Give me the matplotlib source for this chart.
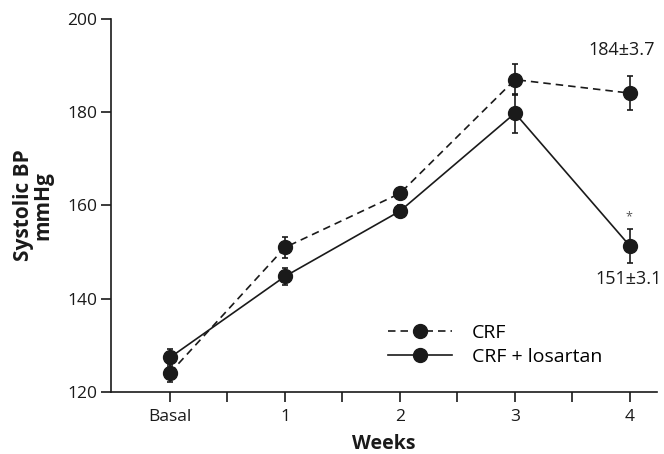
import numpy as np
import matplotlib
matplotlib.use("Agg")
import matplotlib.pyplot as plt
from matplotlib.lines import Line2D

plt.rcParams['font.family'] = ['Open Sans', 'DejaVu Sans']

# data
weeks = [0, 1, 2, 3, 4]
week_labels = ["Basal", "1", "2", "3", "4"]

crf_mean = [124.1, 151.0, 162.6, 187.0, 184.1]
crf_err = [1.9, 2.3, 1.2, 3.4, 3.7]

los_mean = [127.4, 144.8, 158.8, 179.8, 151.3]
los_err = [1.8, 1.9, 1.2, 4.2, 3.7]

ink = "#1a1a1a"
dash = (0, (4.5, 3))

fig = plt.figure(figsize=(6.64, 4.54), dpi=100)
ax = fig.add_axes([111/664, 1 - 392/454, (657 - 111)/664, (392 - 19)/454])

ax.errorbar(weeks, crf_mean, yerr=crf_err, color=ink, lw=1.2,
            linestyle=dash, marker='o', markersize=10,
            capsize=2.5, elinewidth=1.2, capthick=1.2)
ax.errorbar(weeks, los_mean, yerr=los_err, color=ink, lw=1.2,
            linestyle='-', marker='o', markersize=10,
            capsize=2.5, elinewidth=1.2, capthick=1.2)

ax.set_xlim(-0.513, 4.235)
ax.set_ylim(120, 200)
ax.set_yticks([120, 140, 160, 180, 200])
ax.set_xticks(weeks)
ax.set_xticklabels(week_labels)
ax.set_xticks([0.5, 1.5, 2.5, 3.5], minor=True)

for s in ["top", "right"]:
    ax.spines[s].set_visible(False)
for s in ["left", "bottom"]:
    ax.spines[s].set_linewidth(1.2)
    ax.spines[s].set_color(ink)

ax.tick_params(axis='both', which='both', direction='out', length=7,
               width=1.2, color=ink, labelsize=12.5, labelcolor=ink)
ax.tick_params(axis='x', pad=5)
ax.tick_params(axis='y', pad=3)

ax.set_xlabel("Weeks", fontsize=14, fontweight='bold', color=ink, labelpad=7)
ax.set_ylabel("Systolic BP\nmmHg", fontsize=15, fontweight='bold', color=ink,
              labelpad=10, linespacing=0.9)

ax.text(3.93, 193.4, "184±3.7", fontsize=13, ha='center', va='center', color=ink)
ax.text(3.99, 144.2, "151±3.1", fontsize=13, ha='center', va='center', color=ink)
ax.text(3.99, 157.6, "*", fontsize=9, ha='center', va='center', color="#555555")

handles = [Line2D([], [], color=ink, lw=1.2, linestyle=dash, marker='o', markersize=10),
           Line2D([], [], color=ink, lw=1.2, linestyle='-', marker='o', markersize=10)]
ax.legend(handles, ["CRF", "CRF + losartan"], loc='upper left',
          bbox_to_anchor=(388/664, 1 - 324/454),
          bbox_transform=fig.transFigure, frameon=False, fontsize=14,
          borderpad=0, borderaxespad=0, handlelength=3.3, handletextpad=1.0,
          labelspacing=0.3, numpoints=1)

fig.savefig("out.png", dpi=100)
